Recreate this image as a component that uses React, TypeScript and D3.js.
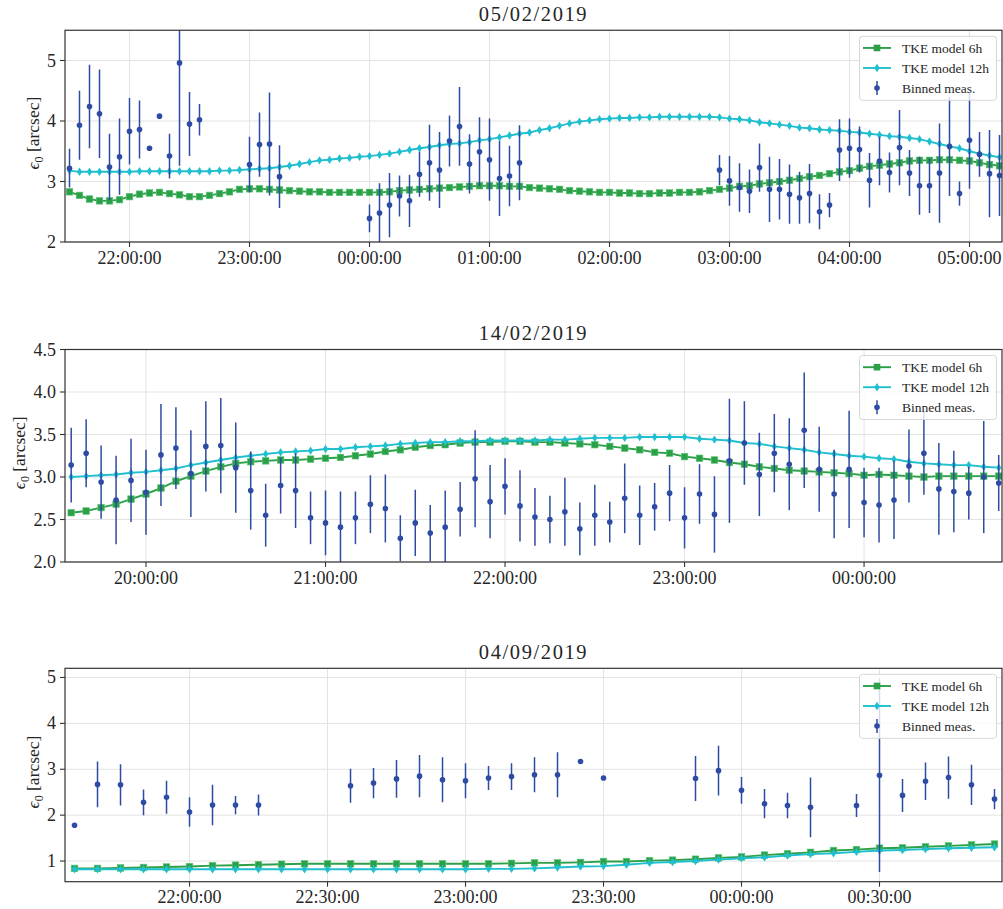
import React from "react";
import * as d3 from "d3";

// ---------- Panel 1 : 05/02/2019 (5-min bins, 21:30 -> 05:15) ----------
const p1Title = "05/02/2019";
const p1Start = "21:30";
const p1XTicks = ["22:00:00", "23:00:00", "00:00:00", "01:00:00", "02:00:00", "03:00:00", "04:00:00", "05:00:00"];
const p1YTicks = [2, 3, 4, 5];
const p1Model6h = [
  2.83, 2.77, 2.71, 2.68, 2.68, 2.70, 2.75,
  2.79, 2.81, 2.82, 2.80, 2.78, 2.75,
  2.75, 2.77, 2.80, 2.83, 2.87, 2.88,
  2.88, 2.87, 2.86, 2.85, 2.84, 2.83,
  2.83, 2.82, 2.82, 2.82, 2.82, 2.82,
  2.82, 2.83, 2.85, 2.86, 2.87, 2.88,
  2.89, 2.90, 2.91, 2.92, 2.93, 2.93,
  2.93, 2.92, 2.92, 2.90, 2.89, 2.88,
  2.87, 2.85, 2.84, 2.83, 2.82, 2.82,
  2.81, 2.81, 2.80, 2.80, 2.81, 2.81,
  2.82, 2.82, 2.83, 2.85, 2.87, 2.89,
  2.92, 2.93, 2.96, 2.98, 3.00, 3.02,
  3.05, 3.08, 3.10, 3.13, 3.16, 3.18,
  3.22, 3.25, 3.27, 3.29, 3.31, 3.34,
  3.35, 3.35, 3.36, 3.36, 3.35, 3.34,
  3.31, 3.28, 3.26,
];
const p1Model12h = [
  3.18, 3.16, 3.16, 3.16, 3.16, 3.16, 3.16,
  3.17, 3.17, 3.17, 3.17, 3.17, 3.17,
  3.17, 3.17, 3.18, 3.18, 3.19, 3.20,
  3.21, 3.22, 3.24, 3.26, 3.29, 3.32,
  3.35, 3.36, 3.38, 3.39, 3.41, 3.42,
  3.44, 3.46, 3.49, 3.52, 3.55, 3.57,
  3.60, 3.62, 3.63, 3.65, 3.68, 3.70,
  3.73, 3.76, 3.79, 3.81, 3.85, 3.88,
  3.92, 3.96, 3.99, 4.01, 4.03, 4.04,
  4.05, 4.05, 4.06, 4.06, 4.07, 4.07,
  4.07, 4.07, 4.07, 4.07, 4.06, 4.04,
  4.03, 4.01, 3.98, 3.96, 3.94, 3.92,
  3.89, 3.88, 3.86, 3.85, 3.84, 3.82,
  3.81, 3.79, 3.77, 3.75, 3.74, 3.72,
  3.70, 3.66, 3.62, 3.58, 3.55, 3.50,
  3.46, 3.43, 3.40,
];
const p1Meas = [
  3.22, 3.93, 4.24, 4.12, 3.24, 3.41, 3.83,
  3.86, 3.55, 4.08, 3.42, 4.96, 3.95,
  4.02, null, null, null, null, 3.28,
  3.61, 3.62, 3.08, null, null, null,
  null, null, null, null, null, 2.39,
  2.48, 2.61, 2.76, 2.68, 3.12, 3.31,
  3.19, 3.67, 3.91, 3.29, 3.49, 3.36,
  3.05, 3.09, 3.31, null, null, null,
  null, null, null, null, null, null,
  null, null, null, null, null, null,
  null, null, null, null, 3.19, 3.01,
  2.90, 2.84, 3.23, 2.87, 2.87, 2.79,
  2.73, 2.80, 2.50, 2.61, 3.52, 3.55,
  3.53, 3.02, 3.34, 3.15, 3.56, 3.14,
  2.93, 2.93, 3.14, 3.58, 2.80, 3.68,
  3.45, 3.13, 3.10,
];
const p1Err = [
  0.32, 0.57, 0.69, 0.73, 0.55, 0.63, 0.55,
  0.48, 0, 0, 0.37, 1.70, 0.53,
  0.26, null, null, null, null, 0.46,
  0.53, 0.85, 0.52, null, null, null,
  null, null, null, null, null, 0.23,
  0.49, 0.53, 0.34, 0.43, 0.37, 0.63,
  0.63, 0.42, 0.65, 0.49, 0.57, 0.68,
  0.62, 0.50, 0.62, null, null, null,
  null, null, null, null, null, null,
  null, null, null, null, null, null,
  null, null, null, null, 0.25, 0.41,
  0.40, 0.36, 0.40, 0.54, 0.50, 0.49,
  0.43, 0.49, 0.29, 0.20, 0.51, 0.49,
  0.38, 0.45, 0.40, 0.33, 0.62, 0.38,
  0.48, 0.45, 0.82, 0.82, 0.20, 0.80,
  0.37, 0.72, 0.67,
];

// ---------- Panel 2 : 14/02/2019 (19:35 -> 00:45) ----------
const p2Title = "14/02/2019";
const p2Start = "19:35";
const p2XTicks = ["20:00:00", "21:00:00", "22:00:00", "23:00:00", "00:00:00"];
const p2YTicks = [2.0, 2.5, 3.0, 3.5, 4.0, 4.5];
const p2Model6h = [
  2.58, 2.60, 2.64, 2.68, 2.74,
  2.80, 2.87, 2.95, 3.01, 3.07, 3.12, 3.16, 3.18, 3.19, 3.20, 3.20, 3.21,
  3.22, 3.23, 3.25, 3.27, 3.30, 3.32, 3.35, 3.37, 3.38, 3.40, 3.41, 3.41,
  3.42, 3.42, 3.41, 3.41, 3.40, 3.39, 3.38, 3.36, 3.34, 3.32, 3.29, 3.28,
  3.24, 3.22, 3.20, 3.17, 3.15, 3.12, 3.10, 3.08, 3.07, 3.06, 3.05, 3.04,
  3.02, 3.03, 3.02, 3.01, 3.00, 3.01, 3.01, 3.01, 3.01, 3.01,
];
const p2Model12h = [
  3.00, 3.01, 3.02, 3.03, 3.05,
  3.06, 3.08, 3.10, 3.14, 3.17, 3.20, 3.23, 3.25, 3.27, 3.29, 3.30, 3.31,
  3.33, 3.33, 3.35, 3.36, 3.37, 3.39, 3.40, 3.41, 3.41, 3.42, 3.42, 3.43,
  3.43, 3.43, 3.43, 3.44, 3.44, 3.45, 3.46, 3.46, 3.46, 3.47, 3.47, 3.47,
  3.47, 3.45, 3.44, 3.43, 3.40, 3.39, 3.36, 3.34, 3.32, 3.29, 3.27, 3.25,
  3.24, 3.22, 3.21, 3.18, 3.16, 3.15, 3.14, 3.14, 3.12, 3.11,
];
const p2Meas = [
  3.14, 3.28, 2.94, 2.73, 2.96,
  2.82, 3.26, 3.34, 3.04, 3.36, 3.37, 3.11, 2.84, 2.55, 2.90, 2.84, 2.52,
  2.46, 2.41, 2.52, 2.68, 2.63, 2.28, 2.46, 2.34, 2.41, 2.62, 2.98, 2.71,
  2.89, 2.66, 2.53, 2.50, 2.59, 2.39, 2.55, 2.47, 2.75, 2.55, 2.65, 2.81,
  2.52, 2.80, 2.56, 3.19, 3.40, 3.03, 3.28, 3.15, 3.55, 3.09, 2.80, 3.09,
  2.70, 2.67, 2.73, 3.13, 3.28, 2.86, 2.83, 2.81, 3.00, 2.93,
];
const p2Err = [
  0.44, 0.40, 0.43, 0.52, 0.49,
  0.50, 0.60, 0.48, 0.51, 0.53, 0.56, 0.53, 0.46, 0.37, 0.33, 0.44, 0.31,
  0.38, 0.42, 0.31, 0.34, 0.40, 0.27, 0.39, 0.33, 0.43, 0.32, 0.57, 0.43,
  0.33, 0.42, 0.34, 0.28, 0.40, 0.31, 0.36, 0.24, 0.41, 0.35, 0.28, 0.33,
  0.36, 0.35, 0.45, 0.73, 0.49, 0.49, 0.46, 0.54, 0.68, 0.50, 0.52, 0.69,
  0.41, 0.44, 0.46, 0.43, 0.49, 0.54, 0.48, 0.31, 0.66, 0.33,
];

// ---------- Panel 3 : 04/09/2019 (21:35 -> 00:55) ----------
const p3Title = "04/09/2019";
const p3Start = "21:35";
const p3XTicks = ["22:00:00", "22:30:00", "23:00:00", "23:30:00", "00:00:00", "00:30:00"];
const p3YTicks = [1, 2, 3, 4, 5];
const p3Model6h = [
  0.84, 0.84, 0.85, 0.86, 0.87,
  0.88, 0.90, 0.91, 0.92, 0.93, 0.94, 0.94, 0.94, 0.94, 0.94, 0.94, 0.94,
  0.94, 0.94, 0.95, 0.96, 0.96, 0.97, 0.99, 0.99, 1.01, 1.02, 1.04, 1.07,
  1.09, 1.13, 1.16, 1.19, 1.23, 1.25, 1.28, 1.29, 1.31, 1.33, 1.35, 1.37,
];
const p3Model12h = [
  0.82, 0.82, 0.82, 0.82, 0.82,
  0.82, 0.82, 0.82, 0.82, 0.82, 0.82, 0.82, 0.82, 0.82, 0.82, 0.82, 0.82,
  0.82, 0.83, 0.83, 0.84, 0.86, 0.88, 0.89, 0.92, 0.96, 0.98, 1.00, 1.03,
  1.06, 1.08, 1.12, 1.15, 1.17, 1.20, 1.23, 1.24, 1.26, 1.28, 1.29, 1.30,
];
const p3Meas = [
  1.78, 2.67, 2.66, 2.28, 2.39,
  2.07, 2.22, 2.22, 2.22, null, null, null, 2.64, 2.70, 2.79, 2.85, 2.77,
  2.75, 2.81, 2.84, 2.88, 2.88, 3.17, 2.81, null, null, null, 2.80, 2.97,
  2.54, 2.25, 2.21, 2.17, null, 2.21, 2.87, 2.43, 2.74, 2.82, 2.66, 2.35,
];
const p3Err = [
  0, 0.50, 0.45, 0.28, 0.36,
  0.32, 0.44, 0.20, 0.23, null, null, null, 0.37, 0.33, 0.41, 0.46, 0.49,
  0.38, 0.26, 0.29, 0.38, 0.49, 0, 0, null, null, null, 0.49, 0.54,
  0.29, 0.32, 0.28, 0.65, null, 0.25, 2.11, 0.36, 0.41, 0.46, 0.44, 0.22,
];

const legendLabels = ["TKE model 6h", "TKE model 12h", "Binned meas."];

// ---------- styling / layout ----------
const W = 1003;
const H = 909;
const LEFT = 65;
const RIGHT = 1002;
const GREEN = "#2ca048";
const CYAN = "#1fbfcf";
const BLUE = "#2d4ba3";
const FONT = "'Liberation Serif', 'DejaVu Serif', serif";
const STEP_MIN = 5;

const toMin = (s: string) => {
  const [h, m] = s.split(":").map(Number);
  let v = h * 60 + m;
  if (h < 12) v += 1440;
  return v;
};

type PanelDef = {
  id: string;
  title: string;
  start: string;
  xTicks: string[];
  yTicks: number[];
  yFmt: (v: number) => string;
  m6: number[];
  m12: number[];
  meas: (number | null)[];
  err: (number | null)[];
  top: number;
  bottom: number;
  labelX: number;
  xDomain: [number, number];
  yDomain: [number, number];
};

const panels: PanelDef[] = [
  {
    id: "p1", title: p1Title, start: p1Start, xTicks: p1XTicks, yTicks: p1YTicks,
    yFmt: (v) => d3.format("d")(v), m6: p1Model6h, m12: p1Model12h, meas: p1Meas, err: p1Err,
    top: 30.25, bottom: 242, labelX: 38.5, xDomain: [1287.75, 1756.25], yDomain: [2, 5.5],
  },
  {
    id: "p2", title: p2Title, start: p2Start, xTicks: p2XTicks, yTicks: p2YTicks,
    yFmt: (v) => d3.format(".1f")(v), m6: p2Model6h, m12: p2Model12h, meas: p2Meas, err: p2Err,
    top: 349.5, bottom: 562, labelX: 24.5, xDomain: [1172.93, 1486.1], yDomain: [2, 4.5],
  },
  {
    id: "p3", title: p3Title, start: p3Start, xTicks: p3XTicks, yTicks: p3YTicks,
    yFmt: (v) => d3.format("d")(v), m6: p3Model6h, m12: p3Model12h, meas: p3Meas, err: p3Err,
    top: 668.3, bottom: 881.7, labelX: 38.5, xDomain: [1292.93, 1496.63], yDomain: [0.55, 5.2],
  },
];

const diamond = "M0,-4.2L2.7,0L0,4.2L-2.7,0Z";

function Panel({ p }: { p: PanelDef }) {
  const x = d3.scaleLinear().domain(p.xDomain).range([LEFT, RIGHT]);
  const y = d3.scaleLinear().domain(p.yDomain).range([p.bottom, p.top]);
  const t0 = toMin(p.start);
  const times = p.m6.map((_, i) => t0 + i * STEP_MIN);
  const line = d3
    .line<number>()
    .x((_, i) => x(times[i]))
    .y((d) => y(d));
  const clipId = `clip-${p.id}`;
  const legX = 859.5;
  const legY = p.top + 6;
  const rowY = [legY + 11.7, legY + 31.7, legY + 51.7];
  const hx = 877;
  return (
    <g>
      <defs>
        <clipPath id={clipId}>
          <rect x={LEFT} y={p.top} width={RIGHT - LEFT} height={p.bottom - p.top} />
        </clipPath>
      </defs>
      <rect x={LEFT} y={p.top} width={RIGHT - LEFT} height={p.bottom - p.top} fill="#fff" />
      {/* grid */}
      <g stroke="#e3e3e3" strokeWidth={1}>
        {p.xTicks.map((t) => (
          <line key={t} x1={x(toMin(t))} x2={x(toMin(t))} y1={p.top} y2={p.bottom} />
        ))}
        {p.yTicks.map((v) => (
          <line key={v} x1={LEFT} x2={RIGHT} y1={y(v)} y2={y(v)} />
        ))}
      </g>
      <g clipPath={`url(#${clipId})`}>
        {/* 6h model */}
        <path d={line(p.m6) || ""} fill="none" stroke={GREEN} strokeWidth={1.9} />
        {p.m6.map((v, i) => (
          <rect key={i} x={x(times[i]) - 3.3} y={y(v) - 3.3} width={6.6} height={6.6}
            fill={GREEN} stroke="#5cc878" strokeWidth={0.6} />
        ))}
        {/* 12h model */}
        <path d={line(p.m12) || ""} fill="none" stroke={CYAN} strokeWidth={1.9} />
        {p.m12.map((v, i) => (
          <path key={i} d={diamond} transform={`translate(${x(times[i])},${y(v)})`} fill={CYAN} />
        ))}
        {/* binned measurements with error bars */}
        {p.meas.map((v, i) => {
          if (v == null) return null;
          const e = p.err[i] || 0;
          const cx = x(times[i]);
          return (
            <g key={i}>
              {e > 0 && (
                <line x1={cx} x2={cx} y1={y(v - e)} y2={y(v + e)} stroke={BLUE} strokeWidth={1.5} />
              )}
              <circle cx={cx} cy={y(v)} r={2.8} fill={BLUE} />
            </g>
          );
        })}
      </g>
      {/* frame */}
      <rect x={LEFT} y={p.top} width={RIGHT - LEFT} height={p.bottom - p.top}
        fill="none" stroke="#333" strokeWidth={1.2} />
      {/* x ticks */}
      {p.xTicks.map((t) => (
        <g key={t}>
          <line x1={x(toMin(t))} x2={x(toMin(t))} y1={p.bottom} y2={p.bottom + 5} stroke="#333" strokeWidth={1.1} />
          <text x={x(toMin(t))} y={p.bottom + 21.5} textAnchor="middle" fontSize={18} fill="#262626">{t}</text>
        </g>
      ))}
      {/* y ticks */}
      {p.yTicks.map((v) => (
        <g key={v}>
          <line x1={LEFT - 5} x2={LEFT} y1={y(v)} y2={y(v)} stroke="#333" strokeWidth={1.1} />
          <text x={LEFT - 9} y={y(v) + 6} textAnchor="end" fontSize={18} fill="#262626">{p.yFmt(v)}</text>
        </g>
      ))}
      {/* y label */}
      <text transform={`translate(${p.labelX},${(p.top + p.bottom) / 2 - 3}) rotate(-90)`} textAnchor="middle"
        fontSize={17.5} fill="#262626">
        <tspan fontStyle="italic">ϵ</tspan>
        <tspan fontSize={12} dy={4}>0</tspan>
        <tspan dy={-4}> [arcsec]</tspan>
      </text>
      {/* title */}
      <text x={(LEFT + RIGHT) / 2} y={p.top - 9.5} textAnchor="middle" fontSize={20.5}
        letterSpacing={1.6} fill="#262626">{p.title}</text>
      {/* legend */}
      <g>
        <rect x={legX} y={legY} width={137} height={64} rx={3} fill="#fff" fillOpacity={0.8}
          stroke="#d6d6d6" strokeWidth={1} />
        <line x1={863} x2={891} y1={rowY[0]} y2={rowY[0]} stroke={GREEN} strokeWidth={1.9} />
        <rect x={hx - 3.3} y={rowY[0] - 3.3} width={6.6} height={6.6} fill={GREEN} />
        <line x1={863} x2={891} y1={rowY[1]} y2={rowY[1]} stroke={CYAN} strokeWidth={1.9} />
        <path d={diamond} transform={`translate(${hx},${rowY[1]})`} fill={CYAN} />
        <line x1={hx} x2={hx} y1={rowY[2] - 7} y2={rowY[2] + 7} stroke={BLUE} strokeWidth={1.5} />
        <circle cx={hx} cy={rowY[2]} r={2.8} fill={BLUE} />
        {legendLabels.map((l, i) => (
          <text key={l} x={902} y={rowY[i] + 4.6} fontSize={13.5} fill="#262626">{l}</text>
        ))}
      </g>
    </g>
  );
}

export default function App() {
  return (
    <svg width={W} height={H} viewBox={`0 0 ${W} ${H}`}
      style={{ position: "absolute", left: 0, top: 0, background: "#fff", fontFamily: FONT }}>
      <rect width={W} height={H} fill="#fff" />
      {panels.map((p) => (
        <Panel key={p.id} p={p} />
      ))}
    </svg>
  );
}
